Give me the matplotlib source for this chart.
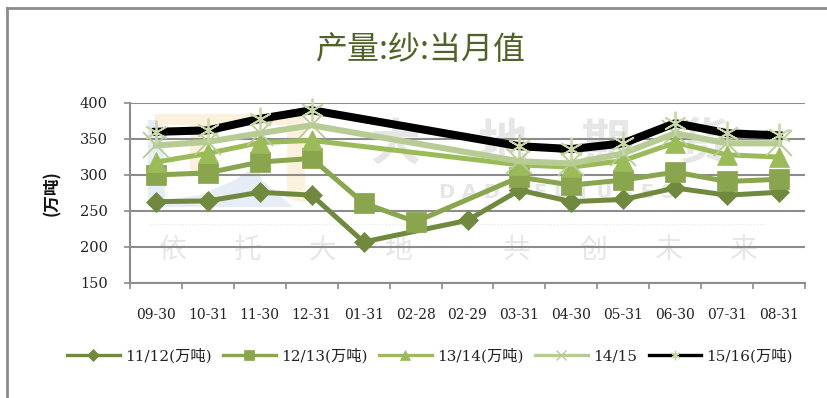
import numpy as np
import matplotlib
matplotlib.use('Agg')
import matplotlib.pyplot as plt
from matplotlib.lines import Line2D
from matplotlib.patches import Polygon

plt.rcParams['font.family'] = ['DejaVu Serif', 'Noto Sans CJK SC']

nan = float('nan')
dates = ['09-30', '10-31', '11-30', '12-31', '01-31', '02-28', '02-29',
         '03-31', '04-30', '05-31', '06-30', '07-31', '08-31']
s1112 = [263, 264, 276, 272, 207, nan, 237, 279, 263, 266, 282, 272, 276]
s1213 = [300, 303, 318, 323, 261, 235, nan, 297, 286, 293, 304, 291, 294]
s1314 = [318, 330, 345, 348, nan, nan, nan, 314, 311, 320, 345, 328, 325]
s1415 = [341, 346, 358, 369, nan, nan, nan, 319, 316, 330, 358, 344, 344]
s1516 = [360, 362, 378, 390, nan, nan, nan, 340, 336, 344, 372, 358, 355]

names = ['11/12(万吨)', '12/13(万吨)', '13/14(万吨)', '14/15', '15/16(万吨)']
series = [s1112, s1213, s1314, s1415, s1516]
colors = ['#71893f', '#89a54e', '#9bbb59', '#b7cc94', '#000000']
markers = ['D', 's', '^', 'x', (6, 2, 0)]
msizes = [10.5, 14.5, 15, 19, 17]
lwidths = [3.6, 3.6, 3.6, 4.4, 5.8]

W, H = 828, 398
fig = plt.figure(figsize=(W / 100, H / 100), dpi=100)
ax = fig.add_axes([130 / W, 1 - 283 / H, 675 / W, 180 / H])

# frame around the chart
fig.add_artist(Line2D([7 / W, 7 / W], [0, 1 - 8 / H], color='#8c8c8c', lw=2))
fig.add_artist(Line2D([7 / W, 1], [1 - 8 / H, 1 - 8 / H], color='#8c8c8c', lw=2))

# watermark: logo shapes
def px(x, y):
    return (x / W, 1 - y / H)

fig.add_artist(Polygon([px(148, 120), px(163, 120), px(165, 200), px(200, 195), px(235, 180),
                        px(257, 165), px(262, 180), px(293, 207), px(148, 207)],
                       facecolor='#e6edf6', edgecolor='none', zorder=-5))
fig.add_artist(Polygon([px(155, 114), px(305, 114), px(305, 203), px(287, 198), px(287, 125),
                        px(207, 125), px(207, 170), px(190, 178), px(190, 125), px(155, 125)],
                       facecolor='#fbf1dc', edgecolor='none', zorder=-5))

# watermark: company name and slogan
wm = '#e6e6e6'
for ch, x in zip('大地期货', [395, 503, 606, 703]):
    fig.text(x / W, 1 - 145 / H, ch, color=wm, fontsize=36, ha='center', va='center',
             family='Noto Sans CJK SC', fontweight='bold', zorder=-4)
fig.text(557 / W, 1 - 192 / H, 'D A D I   F U T U R E S', color=wm, fontsize=14, ha='center', va='center',
         family='DejaVu Sans', fontweight='bold', zorder=-4)
for ch, x in zip('依托大地共创未来', [172, 247, 323, 398, 517, 593, 668, 743]):
    fig.text(x / W, 1 - 250 / H, ch, color=wm, fontsize=20, ha='center', va='center',
             family='Noto Sans CJK SC', zorder=-4)
fig.add_artist(Line2D([150 / W, 765 / W], [1 - 224 / H, 1 - 224 / H], color=wm,
                      lw=0.8, ls=':', zorder=-4))

ax.patch.set_alpha(0)
x = np.arange(len(dates))
for vals, name, c, m, ms, lw in zip(series, names, colors, markers, msizes, lwidths):
    vals = np.array(vals)
    ok = ~np.isnan(vals)
    mec = '#c6d6a5' if m == (6, 2, 0) else c
    ax.plot(x[ok], vals[ok], color=c, lw=lw, marker=m, ms=ms, mfc=mec, mec=mec,
            mew=1.3 if c in ('#b7cc94', '#000000') else 0.5, solid_joinstyle='round',
            clip_on=False, zorder=3)

ax.set_xlim(-0.5, 12.5)
ax.set_ylim(150, 400)
ax.set_yticks([150, 200, 250, 300, 350, 400])
ax.set_xticks(x)
ax.set_xticklabels(dates)
ax.set_xticks(np.arange(-0.5, 13, 1), minor=True)
ax.tick_params(axis='x', which='major', length=0, pad=18, labelsize=10, labelcolor='#222222')
ax.tick_params(axis='x', which='minor', length=4, width=1.2, color='#8c8c8c')
ax.tick_params(axis='y', length=4, width=1.2, color='#8c8c8c', labelsize=10.5, pad=12, labelcolor='#222222')
ax.grid(axis='y', color='#8c8c8c', lw=1.5, zorder=1)
ax.set_axisbelow(True)
for side in ['top', 'right']:
    ax.spines[side].set_visible(False)
for side in ['left', 'bottom']:
    ax.spines[side].set_color('#8c8c8c')
    ax.spines[side].set_linewidth(1.5)

fig.text(52 / W, 1 - 193 / H, '(万吨)', rotation=90, fontsize=12, fontweight='bold', ha='center',
         va='center', family='Noto Sans CJK SC', color='#111111')
fig.text(421 / W, 1 - 50 / H, '产量:纱:当月值', fontsize=23, ha='center', va='center',
         family='Noto Sans CJK SC', color='#4f6228')

handles = []
for name, c, m in zip(names, colors, markers):
    mec = '#c6d6a5' if m == (6, 2, 0) else c
    handles.append(Line2D([], [], color=c, lw=2.4, marker=m, ms=6 if m == 'D' else 7, mfc=mec, mec=mec,
                          mew=1 if m in ('x', (6, 2, 0)) else 0.5, label=name))
fig.legend(handles=handles, loc='center', bbox_to_anchor=(430 / W, 1 - 356 / H), ncol=5, frameon=False,
           fontsize=11, handlelength=3.45, handletextpad=0.35, columnspacing=0.75, labelcolor='#222222')

fig.savefig('out.png', dpi=100, facecolor='white')
